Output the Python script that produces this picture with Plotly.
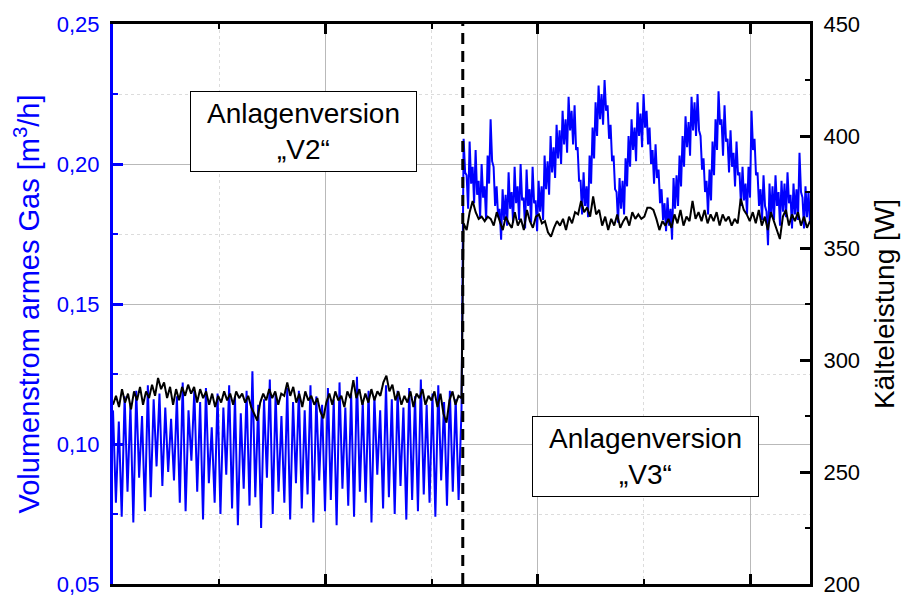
import numpy as np
import plotly.graph_objects as go

# ---------------- data ----------------
switch_time = 1.647          # change of plant version (x units, major tick = 1)
t_end = 3.282

# Volumenstrom armes Gas [m3/h], version V2
flow_v2 = [0.112, 0.079, 0.108, 0.074, 0.117, 0.083, 0.114, 0.072, 0.119, 0.088,
           0.110, 0.076, 0.121, 0.081, 0.116, 0.092, 0.118, 0.085, 0.113, 0.090,
           0.109, 0.087, 0.117, 0.079, 0.122, 0.076, 0.112, 0.094, 0.119, 0.083,
           0.115, 0.073, 0.120, 0.086, 0.106, 0.079, 0.118, 0.075, 0.113, 0.089,
           0.121, 0.077, 0.117, 0.071, 0.111, 0.084, 0.119, 0.078, 0.126, 0.081,
           0.114, 0.070, 0.116, 0.088, 0.123, 0.075, 0.118, 0.083, 0.110, 0.079,
           0.120, 0.073, 0.115, 0.086, 0.119, 0.077, 0.112, 0.082, 0.121, 0.072,
           0.117, 0.087, 0.114, 0.076, 0.120, 0.080, 0.116, 0.071, 0.122, 0.084,
           0.113, 0.078, 0.118, 0.074, 0.124, 0.083, 0.115, 0.079, 0.119, 0.072,
           0.117, 0.089, 0.112, 0.077, 0.121, 0.081, 0.116, 0.075, 0.119, 0.085,
           0.113, 0.073, 0.120, 0.080, 0.117, 0.076, 0.123, 0.082, 0.114, 0.079,
           0.118, 0.074, 0.121, 0.087, 0.115, 0.078, 0.119, 0.083, 0.116, 0.080,
           0.112]

# Volumenstrom armes Gas [m3/h], version V3
flow_v3 = [0.209, 0.197, 0.196, 0.184, 0.208, 0.193, 0.199, 0.186, 0.205, 0.189,
           0.194, 0.181, 0.200, 0.188, 0.192, 0.180, 0.203, 0.193, 0.216, 0.201,
           0.199, 0.185, 0.192, 0.181, 0.184, 0.173, 0.191, 0.180, 0.189, 0.178,
           0.197, 0.184, 0.190, 0.179, 0.199, 0.186, 0.192, 0.180, 0.200, 0.187,
           0.188, 0.177, 0.198, 0.185, 0.191, 0.179, 0.199, 0.186, 0.187, 0.176,
           0.194, 0.183, 0.192, 0.180, 0.203, 0.191, 0.201, 0.189, 0.210, 0.197,
           0.206, 0.195, 0.214, 0.202, 0.212, 0.200, 0.219, 0.207, 0.216, 0.204,
           0.224, 0.212, 0.219, 0.207, 0.221, 0.205, 0.206, 0.194, 0.194, 0.182,
           0.197, 0.185, 0.192, 0.181, 0.203, 0.193, 0.213, 0.202, 0.222, 0.210,
           0.228, 0.216, 0.225, 0.214, 0.230, 0.219, 0.221, 0.209, 0.214, 0.201,
           0.203, 0.191, 0.190, 0.179, 0.195, 0.184, 0.194, 0.182, 0.202, 0.192,
           0.210, 0.199, 0.216, 0.205, 0.213, 0.201, 0.222, 0.210, 0.218, 0.206,
           0.225, 0.213, 0.219, 0.207, 0.213, 0.200, 0.205, 0.193, 0.207, 0.195,
           0.198, 0.186, 0.191, 0.180, 0.186, 0.176, 0.188, 0.178, 0.184, 0.173,
           0.195, 0.184, 0.196, 0.185, 0.203, 0.192, 0.210, 0.199, 0.217, 0.206,
           0.215, 0.203, 0.224, 0.212, 0.222, 0.210, 0.225, 0.212, 0.210, 0.198,
           0.202, 0.190, 0.194, 0.182, 0.198, 0.187, 0.208, 0.196, 0.216, 0.205,
           0.226, 0.214, 0.216, 0.203, 0.221, 0.208, 0.209, 0.197, 0.212, 0.199,
           0.204, 0.192, 0.208, 0.196, 0.197, 0.185, 0.199, 0.187, 0.193, 0.182,
           0.199, 0.188, 0.219, 0.205, 0.209, 0.196, 0.197, 0.185, 0.191, 0.180,
           0.196, 0.185, 0.183, 0.171, 0.193, 0.181, 0.192, 0.180, 0.196, 0.185,
           0.190, 0.178, 0.194, 0.183, 0.193, 0.181, 0.197, 0.186, 0.189, 0.177,
           0.193, 0.182, 0.191, 0.180, 0.204, 0.190, 0.188, 0.177, 0.192, 0.181,
           0.190, 0.179]

# Kälteleistung [W], version V2
power_v2 = [280, 284, 279, 287, 281, 285, 278, 286, 282, 288,
            280, 286, 283, 289, 284, 292, 287, 290, 283, 288,
            280, 287, 282, 288, 284, 289, 285, 288, 281, 287,
            283, 286, 280, 285, 279, 284, 281, 286, 282, 285,
            280, 286, 283, 285, 281, 284, 279, 276, 273, 281,
            285, 282, 287, 283, 286, 280, 285, 284, 290, 284,
            288, 281, 285, 279, 286, 282, 284, 280, 283, 277,
            274, 281, 285, 280, 286, 282, 284, 279, 286, 283,
            291, 283, 287, 280, 285, 281, 287, 282, 286, 284,
            290, 293, 286, 289, 282, 286, 280, 284, 281, 286,
            279, 285, 283, 287, 280, 284, 282, 286, 279, 285,
            276, 272, 282, 286, 280, 284, 283]

# Kälteleistung [W], version V3
power_v3 = [361, 358, 366, 371, 366, 363, 364, 362, 364, 363,
            360, 366, 362, 358, 364, 361, 359, 366, 360, 363,
            358, 367, 362, 359, 364, 365, 361, 362, 357, 355,
            359, 362, 360, 363, 358, 364, 361, 366, 365, 371,
            366, 368, 364, 373, 365, 367, 360, 364, 358, 363,
            360, 365, 359, 362, 364, 360, 366, 363, 365, 363,
            364, 368, 368, 367, 363, 358, 362, 360, 363, 359,
            365, 361, 367, 360, 364, 362, 371, 363, 366, 362,
            367, 361, 365, 362, 366, 360, 365, 362, 364, 360,
            363, 361, 372, 367, 365, 362, 366, 361, 367, 360,
            364, 358, 366, 362, 359, 354, 364, 367, 360, 365,
            362, 366, 360, 364, 359, 362]

left_title = "Volumenstrom armes Gas [m<sup>3</sup>/h]"
right_title = "Kälteleistung [W]"
label_v2 = "Anlagenversion<br>\u201eV2\u201c"
label_v3 = "Anlagenversion<br>\u201eV3\u201c"

# ---------------- build ----------------
t_v2 = np.linspace(0.0, switch_time - 0.006, len(flow_v2))
t_v3 = np.linspace(switch_time + 0.004, t_end, len(flow_v3))
t_p2 = np.linspace(0.0, switch_time - 0.006, len(power_v2))
t_p3 = np.linspace(switch_time + 0.004, t_end, len(power_v3))

t_flow = np.concatenate([t_v2, t_v3])
flow = flow_v2 + flow_v3
t_pow = np.concatenate([t_p2, t_p3])
power = power_v2 + power_v3

BLUE = "#0000ff"
FONT = "Liberation Sans, Arial, sans-serif"

fig = go.Figure()
fig.add_trace(go.Scatter(x=t_flow, y=flow, mode="lines",
                         line=dict(color=BLUE, width=2.0), yaxis="y"))
fig.add_trace(go.Scatter(x=t_pow, y=power, mode="lines",
                         line=dict(color="black", width=2.0), yaxis="y2"))

fig.add_shape(type="line", xref="x", yref="paper",
              x0=switch_time, x1=switch_time, y0=0, y1=1,
              line=dict(color="black", width=3, dash="11px,7px"))

fig.update_layout(
    width=901, height=595,
    margin=dict(l=113, r=91, t=24, b=11, autoexpand=False),
    plot_bgcolor="white", paper_bgcolor="white",
    showlegend=False,
    separators=",.",
    font=dict(family=FONT, color="black"),
    xaxis=dict(range=[0, t_end], showticklabels=False, automargin=False,
               tick0=0, dtick=1, ticks="inside", ticklen=10, tickwidth=2.5,
               tickcolor="black",
               showgrid=True, gridcolor="#b9b9b9", gridwidth=1,
               showline=True, linecolor="black", linewidth=3, mirror="ticks",
               zeroline=False,
               minor=dict(dtick=0.5, ticks="inside", ticklen=5, tickwidth=2,
                          tickcolor="black", showgrid=True,
                          gridcolor="#dcdcdc", griddash="dot", gridwidth=1)),
    yaxis=dict(range=[0.05, 0.25], tick0=0.05, dtick=0.05, tickformat=".2f",
               automargin=False, ticklabeloverflow="allow",
               ticks="inside", ticklen=10, tickwidth=3, tickcolor=BLUE,
               tickfont=dict(size=22, color=BLUE, family=FONT),
               ticklabelstandoff=6,
               title=dict(text=left_title, font=dict(size=29, color=BLUE, family=FONT),
                          standoff=9),
               showgrid=True, gridcolor="#b9b9b9", gridwidth=1,
               showline=True, linecolor=BLUE, linewidth=3,
               zeroline=False,
               minor=dict(dtick=0.025, ticks="inside", ticklen=5, tickwidth=2,
                          tickcolor=BLUE, showgrid=True,
                          gridcolor="#dcdcdc", griddash="dot", gridwidth=1)),
    yaxis2=dict(range=[200, 450], tick0=200, dtick=50, overlaying="y", side="right",
                automargin=False, ticklabeloverflow="allow",
                ticks="inside", ticklen=10, tickwidth=3, tickcolor="black",
                tickfont=dict(size=22, color="black", family=FONT),
                ticklabelstandoff=6,
                title=dict(text=right_title, font=dict(size=28, color="black", family=FONT),
                           standoff=16),
                showgrid=False, showline=True, linecolor="black", linewidth=3,
                zeroline=False,
                minor=dict(dtick=25, ticks="inside", ticklen=5, tickwidth=2,
                           tickcolor="black")),
)

for txt, xp, yp in [(label_v2, 0.2733, 0.808), (label_v3, 0.7647, 0.2277)]:
    fig.add_annotation(text=txt, xref="paper", yref="paper", x=xp, y=yp,
                       xanchor="center", yanchor="middle", showarrow=False,
                       font=dict(size=28, color="black", family=FONT),
                       bgcolor="white", bordercolor="black", borderwidth=1,
                       borderpad=0, width=225, height=79, align="center")

fig.write_html("out.html",
               config={"displayModeBar": False},
               post_script="document.body.style.margin='0px';"
                           "document.body.style.overflow='hidden';")
